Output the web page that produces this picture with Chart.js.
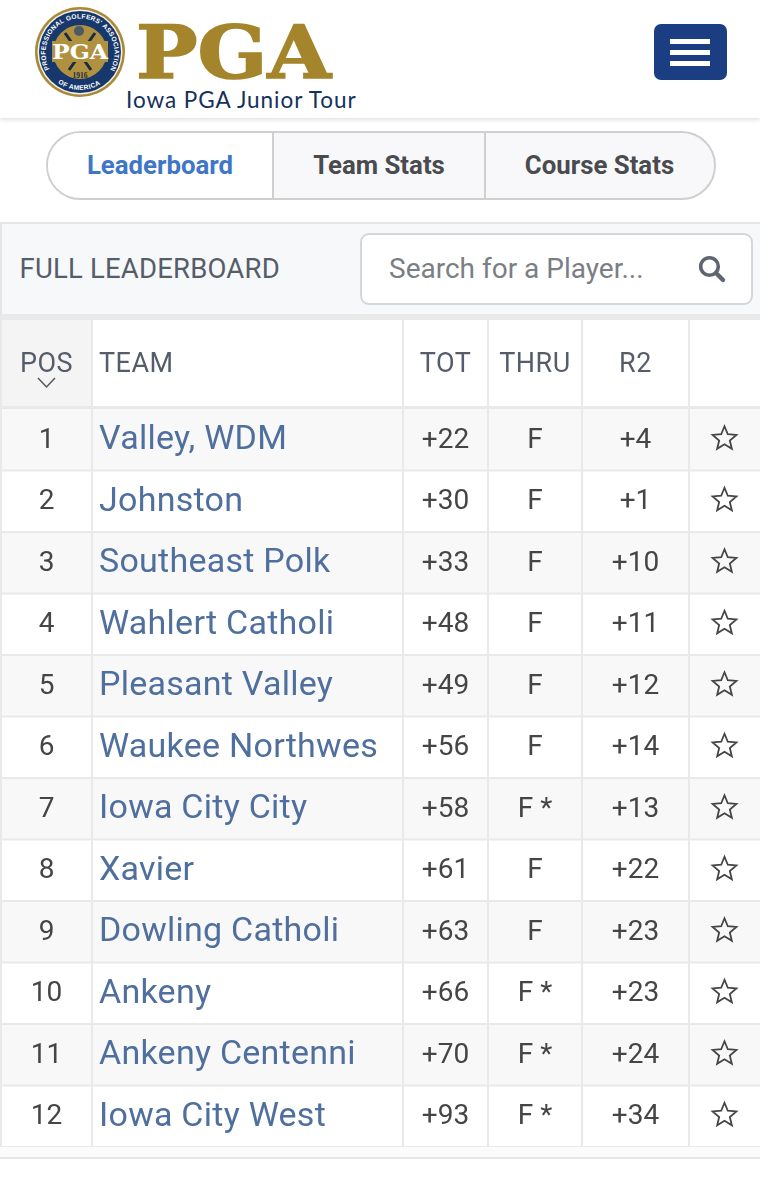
<!DOCTYPE html>
<html>
<head>
<meta charset="utf-8">
<title>Iowa PGA Junior Tour - Leaderboard</title>
<script src="https://cdn.jsdelivr.net/npm/chart.js@4/dist/chart.umd.min.js"></script>
<style>
    html, body { margin: 0; padding: 0; background: #fff; }
    body { position: relative; width: 760px; height: 1200px; overflow: hidden; font-family: Roboto, sans-serif; }
    .abs { position: absolute; box-sizing: border-box; }

    /* ====== TOP BAR ====== */
    .topbar { left: 0; top: 0; width: 760px; height: 118px; background: #fff; box-shadow: 0 2px 4px rgba(0,0,0,0.12); }
    .tour-name { left: 126px; top: 86px; font: 400 22.5px Lato, sans-serif; letter-spacing: 0.95px; color: #14305c; white-space: nowrap; }
    .menu-btn { left: 654px; top: 24px; width: 73px; height: 56px; background: #1b3d81; border-radius: 7px; }
    .menu-btn i { position: absolute; left: 16px; width: 40px; height: 5px; background: #fff; }

    /* ====== TABS ====== */
    .tabs { left: 46px; top: 131px; width: 670px; height: 69px; border: 2px solid #cfcfcf; border-radius: 35px; background: #f8f8fa; overflow: hidden; }
    .tab { position: absolute; top: 0; height: 65px; line-height: 65px; text-align: center; font-size: 25.8px; font-weight: 700; color: #494b4f; }
    .tab.active { background: #fff; color: #3f77c6; }
    .tab.bordered { border-left: 2px solid #cfcfcf; text-indent: -2px; }

    /* ====== SEARCH BAR ====== */
    .search-bar { left: 0; top: 222px; width: 760px; height: 98px; background: #f6f8fa; border-top: 2px solid #e6e6e6; border-left: 2px solid #e6e6e6; border-bottom: 6px solid #e9e9e9; }
    .board-title { left: 19.5px; top: 251px; font-size: 27.5px; letter-spacing: 0.2px; line-height: 36px; color: #555d6b; white-space: nowrap; }
    .search-box { left: 360px; top: 233px; width: 393px; height: 72px; background: #fff; border: 2px solid #d3d7dc; border-radius: 9px; }
    .search-text { left: 389px; top: 251px; font-size: 28px; line-height: 36px; color: #7a7e85; white-space: nowrap; }
    .footer-line { left: 0; top: 1147px; width: 760px; height: 12px; background: #fbfbfb; border-bottom: 2px solid #e6e6e6; }
    #leaderboard { position: absolute; left: 0; top: 320px; }
</style>
</head>
<body>

<div class="abs topbar"></div>

<!-- logo -->
<svg class="abs" style="left:0;top:0" width="345" height="100" viewBox="0 0 345 100">
    <defs><path id="seal-top" d="M 50 70 A 34.5 34.5 0 1 1 110 70"></path><path id="seal-bottom" d="M 44 66 A 39 39 0 0 0 116 66"></path></defs>
    <circle cx="80" cy="52" r="45" fill="#a98a38"></circle>
    <circle cx="80" cy="52" r="42.5" fill="#f4f1e6"></circle>
    <circle cx="80" cy="52" r="41" fill="#17386c"></circle>
    <text font-family="Liberation Sans" font-size="6.6" font-weight="700" fill="#fff" letter-spacing="0.25"><textPath href="#seal-top" startOffset="1">PROFESSIONAL GOLFERS' ASSOCIATION</textPath></text>
    <text font-family="Liberation Sans" font-size="6.6" font-weight="700" fill="#fff" letter-spacing="0.4"><textPath href="#seal-bottom" startOffset="22">OF AMERICA</textPath></text>
    <circle cx="80" cy="52" r="27" fill="#b0913f"></circle>
    <path d="M 65 33 L 91 70 M 95 33 L 69 70" stroke="#1c2a44" stroke-width="3"></path>
    <circle cx="79" cy="31" r="5" fill="#4a5a66"></circle>
    <rect x="52" y="41" width="56" height="21" fill="#b0913f"></rect>
    <text x="80" y="59" text-anchor="middle" font-family="DejaVu Serif" font-weight="700" font-size="20" fill="#fff" textLength="56" lengthAdjust="spacingAndGlyphs">PGA</text>
    <text x="80" y="78" text-anchor="middle" font-family="Liberation Serif" font-weight="700" font-size="7.5" fill="#1c2a44">1916</text>
    <text x="136" y="77.5" font-family="DejaVu Serif" font-weight="700" font-size="73" fill="#a5852c" stroke="#a5852c" stroke-width="1.6" textLength="195" lengthAdjust="spacingAndGlyphs">PGA</text>
</svg>
<div class="abs tour-name">Iowa PGA Junior Tour</div>

<div class="abs menu-btn"><i style="top:15px"></i><i style="top:26px"></i><i style="top:37px"></i></div>

<div class="abs tabs">
    <div class="tab active" style="left:0;width:224px">Leaderboard</div>
    <div class="tab bordered" style="left:224px;width:212px">Team Stats</div>
    <div class="tab bordered" style="left:436px;width:229px">Course Stats</div>
</div>

<div class="abs search-bar"></div>
<div class="abs board-title">FULL LEADERBOARD</div>
<div class="abs search-box"></div>
<div class="abs search-text">Search for a Player...</div>
<svg class="abs" style="left:697px;top:254px" width="30" height="30" viewBox="0 0 30 30">
    <circle cx="12.5" cy="12.5" r="8.8" fill="none" stroke="#5f6570" stroke-width="3.6"></circle>
    <path d="M 19 19 L 26 26" stroke="#5f6570" stroke-width="4.4" stroke-linecap="round"></path>
</svg>

<canvas id="leaderboard" width="760" height="830"></canvas>
<div class="abs footer-line"></div>

<script>
// ====== LEADERBOARD DATA ======
const positions = [1, 2, 3, 4, 5, 6, 7, 8, 9, 10, 11, 12];
const teams = ['Valley, WDM', 'Johnston', 'Southeast Polk', 'Wahlert Catholi', 'Pleasant Valley', 'Waukee Northwes',
    'Iowa City City', 'Xavier', 'Dowling Catholi', 'Ankeny', 'Ankeny Centenni', 'Iowa City West'];
const totals = [22, 30, 33, 48, 49, 56, 58, 61, 63, 66, 70, 93];
const thru = ['F', 'F', 'F', 'F', 'F', 'F', 'F *', 'F', 'F', 'F *', 'F *', 'F *'];
const round2 = [4, 1, 10, 11, 12, 14, 13, 22, 23, 23, 24, 34];
const headers = ['POS', 'TEAM', 'TOT', 'THRU', 'R2'];

// column edges, in the units of the x scale
const colEdges = [1, 92, 403, 488, 582, 689, 760];
const headerHeight = 89;
const lineColor = '#e9e9e9';
const rowFont = '28px Roboto';
const textDrop = 1; // canvas 'middle' sits a bit high against the page text

const colCenter = i => (colEdges[i] + colEdges[i + 1]) / 2;

function drawStar(ctx, cx, cy, outer, inner) {
    ctx.beginPath();
    for (let i = 0; i < 10; i++) {
        const r = i % 2 ? inner : outer;
        const a = -Math.PI / 2 + i * Math.PI / 5;
        ctx.lineTo(cx + r * Math.cos(a), cy + r * Math.sin(a));
    }
    ctx.closePath();
    ctx.stroke();
}

// Draws the header row, cell lines and cell text from the chart's scales
const tablePlugin = {
    id: 'tableCells',
    afterDatasetsDraw(chart) {
        const { ctx, chartArea, scales: { x, y } } = chart;
        const band = y.getPixelForValue(1) - y.getPixelForValue(0);
        const headerMid = chartArea.top - headerHeight / 2 + 1;

        ctx.save();

        // POS header cell
        ctx.fillStyle = '#f4f4f4';
        ctx.fillRect(x.getPixelForValue(colEdges[0]), 0, x.getPixelForValue(colEdges[1]) - x.getPixelForValue(colEdges[0]), chartArea.top);

        // row lines
        ctx.fillStyle = lineColor;
        teams.forEach((team, i) => {
            const bottom = y.getPixelForValue(i) + band / 2;
            ctx.fillRect(0, bottom - 1, chart.width, 2);
        });
        ctx.fillRect(0, chartArea.top - 3, chart.width, 3);

        // column lines
        colEdges.slice(0, -1).forEach(edge => {
            ctx.fillRect(x.getPixelForValue(edge) - 1, 0, 2, chartArea.bottom + 1);
        });

        // header text
        ctx.textBaseline = 'middle';
        ctx.fillStyle = '#555d6b';
        ctx.font = '27px Roboto';
        ctx.letterSpacing = '0.5px';
        headers.forEach((label, i) => {
            ctx.textAlign = i === 1 ? 'left' : 'center';
            const px = i === 1 ? colEdges[1] + 7 : colCenter(i);
            ctx.fillText(label, x.getPixelForValue(px), headerMid);
        });

        // sort arrow under POS
        ctx.strokeStyle = '#555';
        ctx.lineWidth = 1.5;
        ctx.beginPath();
        ctx.moveTo(x.getPixelForValue(38), 58);
        ctx.lineTo(x.getPixelForValue(46.5), 67);
        ctx.lineTo(x.getPixelForValue(55), 58);
        ctx.stroke();

        // rows
        teams.forEach((team, i) => {
            const py = y.getPixelForValue(i);
            ctx.fillStyle = '#454545';
            ctx.font = rowFont;
            ctx.letterSpacing = '0px';
            ctx.textAlign = 'center';
            ctx.fillText(positions[i], x.getPixelForValue(colCenter(0)), py + textDrop);
            ctx.fillText('+' + totals[i], x.getPixelForValue(colCenter(2)), py + textDrop);
            ctx.fillText(thru[i], x.getPixelForValue(colCenter(3)), py + textDrop);
            ctx.fillText('+' + round2[i], x.getPixelForValue(colCenter(4)), py + textDrop);

            ctx.fillStyle = '#4f6f9e';
            ctx.font = '34px Roboto';
            ctx.letterSpacing = '0.25px';
            ctx.textAlign = 'left';
            ctx.fillText(team, x.getPixelForValue(colEdges[1] + 7), py + textDrop);

            ctx.strokeStyle = '#454545';
            ctx.lineWidth = 1.8;
            drawStar(ctx, x.getPixelForValue(colCenter(5)), py - 1, 12.5, 5.6);
        });

        ctx.restore();
    }
};

new Chart(document.getElementById('leaderboard'), {
    type: 'bar',
    data: {
        labels: teams,
        datasets: [{
            data: teams.map(() => [0, 760]),
            backgroundColor: teams.map((team, i) => (i % 2 === 0 ? '#f8f8f8' : '#ffffff')),
            borderWidth: 0,
            barPercentage: 1,
            categoryPercentage: 1
        }]
    },
    options: {
        indexAxis: 'y',
        responsive: false,
        animation: false,
        devicePixelRatio: 1,
        layout: { padding: { top: headerHeight, bottom: 3, left: 0, right: 0 } },
        plugins: { legend: { display: false }, tooltip: { enabled: false } },
        scales: {
            x: { type: 'linear', min: 0, max: 760, display: false },
            y: { type: 'category', display: false }
        }
    },
    plugins: [tablePlugin]
});
</script>
</body>
</html>
